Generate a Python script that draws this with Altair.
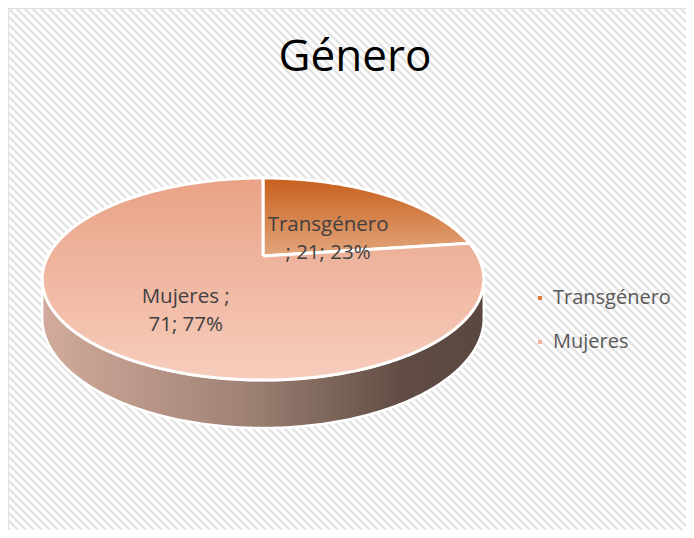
import textwrap
import altair as alt
import pandas as pd

# ---------------- data ----------------
categories = ["Transgénero", "Mujeres"]
values = [21, 71]
legend_colors = ["#e07b39", "#f4b39b"]
title_text = "Género"

total = sum(values)
pcts = [round(v * 100 / total) for v in values]
labels = ["\n".join(textwrap.wrap(f"{c} ; {v}; {p}%", 11))
          for c, v, p in zip(categories, values, pcts)]

df = pd.DataFrame({"cat": categories, "value": values,
                   "order": list(range(len(categories))), "label": labels})

# ---------------- geometry / style ----------------
W, H = 678, 522          # plot area (page margin 8px)
CX, CY = 263, 256        # pie centre, page coordinates
A, B, E = 215, 95.8, -0.228   # perspective projection of the tilted disc
DEPTH = 37
N = 160
FONT = "Open Sans"

xs = alt.Scale(domain=[8, 8 + W], range=[0, W], zero=False, nice=False)
ys = alt.Scale(domain=[8, 8 + H], range=[0, H], zero=False, nice=False)

slice_grad = {
    "Transgénero": alt.Gradient(gradient="linear", x1=0, x2=0, y1=0, y2=1,
                                stops=[alt.GradientStop(color="#c75f1c", offset=0),
                                       alt.GradientStop(color="#e3a67c", offset=1)]),
    "Mujeres": alt.Gradient(gradient="linear", x1=0, x2=0, y1=0, y2=1,
                            stops=[alt.GradientStop(color="#e9a286", offset=0),
                                   alt.GradientStop(color="#f7cdbd", offset=1)]),
}
side_grad = alt.Gradient(gradient="linear", x1=0, x2=1, y1=0, y2=0,
                         stops=[alt.GradientStop(color="#d2ab9c", offset=0),
                                alt.GradientStop(color="#a08376", offset=0.45),
                                alt.GradientStop(color="#604c43", offset=0.82),
                                alt.GradientStop(color="#5a4740", offset=1)])


def angles(ch):
    return (ch.transform_joinaggregate(total="sum(value)")
              .transform_window(cum="sum(value)", sort=[alt.SortField("order")], frame=[None, 0])
              .transform_calculate(a0="2*PI*(datum.cum-datum.value)/datum.total")
              .transform_calculate(a1="2*PI*datum.cum/datum.total"))


def project(ch, bottom_expr="0"):
    return (ch.transform_calculate(u="datum.r*sin(datum.ang)")
              .transform_calculate(v="-datum.r*cos(datum.ang)")
              .transform_calculate(px=f"{CX} + {A}*datum.u/(1+({E})*datum.v)")
              .transform_calculate(py=f"{CY} + ({B}*datum.v + ({bottom_expr})*{DEPTH})/(1+({E})*datum.v)"))


def top_slices(ch):
    ch = angles(ch)
    ch = (ch.transform_calculate(k=f"sequence(-1, {N + 2})")
            .transform_flatten(["k"])
            .transform_calculate(ang=f"datum.a0 + (datum.a1-datum.a0)*clamp(datum.k,0,{N})/{N}")
            .transform_calculate(r=f"(datum.k < 0 || datum.k > {N}) ? 0 : 1"))
    return project(ch)


# ---------------- background hatch ----------------
hatch = (alt.Chart(alt.sequence(-560, 720, 8, as_="c"))
         .transform_calculate(cx2="datum.c + 620", y1="0", y2="620")
         .mark_rule(clip=True, color="#e4e4e4", strokeWidth=2.6)
         .encode(x=alt.X("c:Q", scale=xs, axis=None), x2="cx2:Q",
                 y=alt.Y("y1:Q", scale=ys, axis=None), y2="y2:Q"))

# ---------------- side wall ----------------
SA = "acos(" + str(E) + ")"
side = angles(alt.Chart(df))
side = (side.transform_calculate(s=f"max(datum.a0, {SA})")
            .transform_calculate(e=f"min(datum.a1, 2*PI - {SA})")
            .transform_filter("datum.s < datum.e")
            .transform_calculate(k=f"sequence(0, {2 * N + 3})")
            .transform_flatten(["k"])
            .transform_calculate(t=f"datum.k <= {N} ? datum.k/{N} : (datum.k > {2 * N + 1} ? 0 : ({2 * N + 1}-datum.k)/{N})")
            .transform_calculate(bot=f"(datum.k > {N} && datum.k <= {2 * N + 1}) ? 1 : 0")
            .transform_calculate(ang="datum.s + (datum.e-datum.s)*datum.t")
            .transform_calculate(r="1"))
side = project(side, "datum.bot")
side = side.mark_line(fill=side_grad, stroke="white", strokeWidth=2.5, strokeJoin="round").encode(
    x=alt.X("px:Q", scale=xs, axis=None), y=alt.Y("py:Q", scale=ys, axis=None),
    order=alt.Order("k:Q"), detail="cat:N")

# ---------------- top surface (flat, carries legend) ----------------
top_flat = top_slices(alt.Chart(df)).mark_line(filled=True, strokeWidth=0).encode(
    x=alt.X("px:Q", scale=xs, axis=None), y=alt.Y("py:Q", scale=ys, axis=None),
    order=alt.Order("k:Q"), detail="cat:N",
    color=alt.Color("cat:N", scale=alt.Scale(domain=categories, range=legend_colors),
                    legend=alt.Legend(title=None, orient="none", legendX=522, legendY=280,
                                      symbolType="square", symbolSize=16, symbolStrokeWidth=0,
                                      labelFont=FONT, labelFontSize=20, labelColor="#595959",
                                      labelOffset=3, rowPadding=24, padding=0)))

top_layers = []
for c in categories:
    lay = (top_slices(alt.Chart(df)).transform_filter(alt.datum.cat == c)
           .mark_line(fill=slice_grad[c], stroke="white", strokeWidth=3, strokeJoin="round")
           .encode(x=alt.X("px:Q", scale=xs, axis=None), y=alt.Y("py:Q", scale=ys, axis=None),
                   order=alt.Order("k:Q"), detail="cat:N"))
    top_layers.append(lay)

# ---------------- data labels ----------------
lab = (angles(alt.Chart(df))
       .transform_calculate(ang="(datum.a0+datum.a1)/2")
       .transform_calculate(r="0.5"))
lab = project(lab)
lab = lab.mark_text(font=FONT, fontSize=20.5, color="#404040", lineBreak="\n",
                    lineHeight=28, align="center", baseline="middle", dy=2).encode(
    x=alt.X("px:Q", scale=xs, axis=None), y=alt.Y("py:Q", scale=ys, axis=None),
    text="label:N")

# ---------------- title ----------------
title = alt.Chart(pd.DataFrame({"t": [title_text]})).mark_text(
    font=FONT, fontSize=44, color="#000000", align="center", baseline="alphabetic").encode(
    x=alt.value(347), y=alt.value(63), text="t:N")

chart = alt.layer(hatch, side, top_flat, *top_layers, lab, title).properties(
    width=W, height=H, padding=0,
    autosize=alt.AutoSizeParams(type="none"),
).configure_view(stroke=None).configure(background="white")

chart.save("out.html", embed_options={"renderer": "svg", "actions": False})
